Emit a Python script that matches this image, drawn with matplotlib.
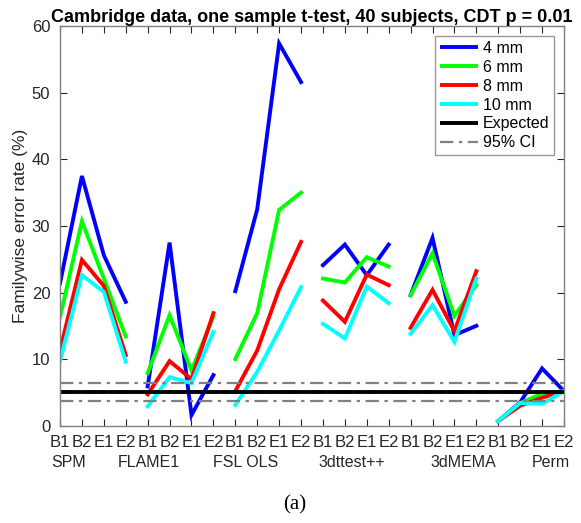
import numpy as np
import matplotlib
matplotlib.use("Agg")
import matplotlib.pyplot as plt
import matplotlib.transforms as mtransforms

plt.rcParams["font.family"] = ["Liberation Sans", "DejaVu Sans"]

# familywise error rates (%) per software / design, one array per smoothing level
methods = ["SPM", "FLAME1", "FSL OLS", "3dttest++", "3dMEMA", "Perm"]
designs = ["B1", "B2", "E1", "E2"]
labels = ["4 mm", "6 mm", "8 mm", "10 mm"]

fwe_4mm = [
    [21.4, 37.5, 25.6, 18.6],
    [5.9, 27.5, 1.6, 7.6],
    [20.2, 32.5, 57.4, 51.6],
    [24.1, 27.2, 22.6, 27.2],
    [19.6, 28.2, 13.6, 15.0],
    [0.7, 3.5, 8.6, 5.2],
]
fwe_6mm = [
    [16.3, 30.7, 22.1, 13.4],
    [7.9, 16.6, 8.3, 16.4],
    [10.0, 16.9, 32.4, 35.0],
    [22.1, 21.5, 25.3, 23.9],
    [19.6, 25.9, 16.5, 21.1],
    [0.7, 3.4, 4.8, 5.2],
]
fwe_8mm = [
    [11.3, 24.9, 21.0, 10.6],
    [4.7, 9.7, 7.0, 16.9],
    [5.2, 11.3, 20.5, 27.6],
    [18.8, 15.6, 22.7, 21.1],
    [14.7, 20.4, 14.2, 23.2],
    [0.7, 3.0, 4.2, 5.2],
]
fwe_10mm = [
    [9.7, 22.6, 20.1, 9.6],
    [2.9, 7.3, 6.4, 14.1],
    [3.1, 8.1, 14.3, 20.8],
    [15.3, 13.1, 20.9, 18.4],
    [13.8, 18.1, 12.6, 22.1],
    [0.7, 3.4, 3.3, 5.2],
]

expected = 5.0
ci_low, ci_high = 3.65, 6.35

series = [fwe_4mm, fwe_6mm, fwe_8mm, fwe_10mm]
colors = [(0, 0, 1), (0, 1, 0), (1, 0, 0), (0, 1, 1)]
group_label_x = [1.4, 5.06, 9.47, 14.3, 19.4, 23.4]

fig = plt.figure(figsize=(5.81, 5.23), dpi=100)
ax = fig.add_axes([0.1033, 0.186, 0.8674, 0.764])

axcol = (0.15, 0.15, 0.15)
handles = []
for vals, col, lab in zip(series, colors, labels):
    for g, row in enumerate(vals):
        x = np.arange(4) + 1 + 4 * g
        h, = ax.plot(x, row, color=col, lw=2.8, solid_joinstyle="miter", label=lab)
    handles.append(h)

h_exp = ax.axhline(expected, color="k", lw=2.8, label="Expected")
h_ci = ax.axhline(ci_high, color=(0.5, 0.5, 0.5), lw=1.6, ls=(0, (6, 2.5, 1.5, 2.5)),
                  label="95% CI")
ax.axhline(ci_low, color=(0.5, 0.5, 0.5), lw=1.6, ls=(0, (6, 2.5, 1.5, 2.5)))
handles += [h_exp, h_ci]

ax.set_xlim(1, 24)
ax.set_ylim(0, 60)
ax.set_xticks(np.arange(1, 25))
ax.set_xticklabels(designs * len(methods))
ax.set_yticks(np.arange(0, 61, 10))
ax.tick_params(direction="in", top=True, right=True, length=5, width=0.8,
               labelsize=12, colors=axcol, labelcolor=axcol, pad=7)
for s in ax.spines.values():
    s.set_color((0.5, 0.5, 0.5))
    s.set_linewidth(1.0)

trans = mtransforms.blended_transform_factory(ax.transData, ax.transAxes)
for xg, name in zip(group_label_x, methods):
    ax.text(xg, -0.091, name, transform=trans, ha="center", va="center",
            fontsize=11.5, color=axcol)

ax.set_ylabel("Familywise error rate (%)", fontsize=12.5, color=axcol, labelpad=3)
ax.set_title("Cambridge data, one sample t-test, 40 subjects, CDT p = 0.01",
             fontsize=13, fontweight="bold", pad=3)

leg = ax.legend(handles=handles, loc="upper right", fontsize=11.5, frameon=True,
                fancybox=False, edgecolor=(0.5, 0.5, 0.5), handlelength=2.4,
                handletextpad=0.3, labelspacing=0.25, borderaxespad=0.6,
                borderpad=0.3)
leg.get_frame().set_linewidth(1.0)
for line in leg.get_lines():
    line.set_solid_capstyle("butt")

fig.text(0.508, 0.034, "(a)", ha="center", va="center", fontsize=15,
         family="Liberation Serif")

fig.savefig("out.png", dpi=100)
